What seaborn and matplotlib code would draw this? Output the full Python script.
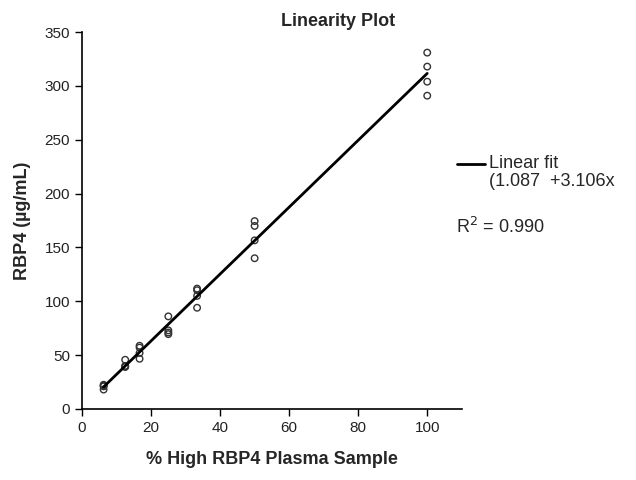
import numpy as np
import pandas as pd
import seaborn as sns
import matplotlib.pyplot as plt

# percent of high RBP4 plasma in each dilution, 4 replicates each
pct_levels = [6.25, 12.5, 16.67, 25, 33.33, 50, 100]
rbp4_values = [
    [22.5, 21.6, 18.0, 21.0],
    [45.7, 39.5, 40.0, 39.0],
    [58.7, 57.0, 46.6, 52.0],
    [86.0, 73.0, 69.5, 71.0],
    [111.8, 110.3, 105.0, 94.0],
    [174.5, 170.0, 156.6, 140.0],
    [331.0, 318.0, 304.0, 291.0],
]
fit_intercept = 1.087
fit_slope = 3.106
r_squared = 0.990

x_ticks = [0, 20, 40, 60, 80, 100]
y_ticks = [0, 50, 100, 150, 200, 250, 300, 350]

df = pd.DataFrame(
    [(p, v) for p, vals in zip(pct_levels, rbp4_values) for v in vals],
    columns=["pct", "rbp4"],
)
fit_x = np.array([pct_levels[0], pct_levels[-1]])
fit_df = pd.DataFrame({"pct": fit_x, "rbp4": fit_intercept + fit_slope * fit_x})

sns.set_style("ticks")
plt.rcParams["font.family"] = ["Liberation Sans", "DejaVu Sans"]

fig = plt.figure(figsize=(6.36, 4.8), dpi=100)
ax = fig.add_axes([0.129, 0.148, 0.597, 0.785])

sns.lineplot(data=fit_df, x="pct", y="rbp4", color="black", linewidth=2,
             ax=ax, label="_fit")
sns.scatterplot(data=df, x="pct", y="rbp4", ax=ax, marker="o", s=22,
                facecolor="none", edgecolor="#333333", linewidth=1.0)

ax.set_xlim(0, 110)
ax.set_ylim(0, 350)
ax.set_xticks(x_ticks)
ax.set_yticks(y_ticks)
ax.tick_params(labelsize=11, length=5, width=1, color="black",
               labelcolor="#222222")
for s in ["left", "bottom"]:
    ax.spines[s].set_linewidth(1.2)
    ax.spines[s].set_color("black")
sns.despine(ax=ax)

ax.set_xlabel("% High RBP4 Plasma Sample", fontsize=13, fontweight="bold",
              labelpad=12)
ax.set_ylabel("RBP4 (µg/mL)", fontsize=13, fontweight="bold", labelpad=10)
fig.text(0.532, 0.956, "Linearity Plot", ha="center", va="center",
         fontsize=13, fontweight="bold")

# legend-like annotation on the right
fig.add_artist(plt.Line2D([457 / 636, 485 / 636], [1 - 164 / 480, 1 - 164 / 480],
                          color="black", linewidth=2))
fig.text(489 / 636, 1 - 164 / 480, "Linear fit", ha="left", va="center",
         fontsize=13)
fig.text(489 / 636, 1 - 181 / 480, f"({fit_intercept}  +{fit_slope}x", ha="left",
         va="center", fontsize=13)
fig.text(456 / 636, 1 - 227 / 480, f"R$^2$ = {r_squared:.3f}", ha="left",
         va="center", fontsize=13)

fig.savefig("out.png", dpi=100)
